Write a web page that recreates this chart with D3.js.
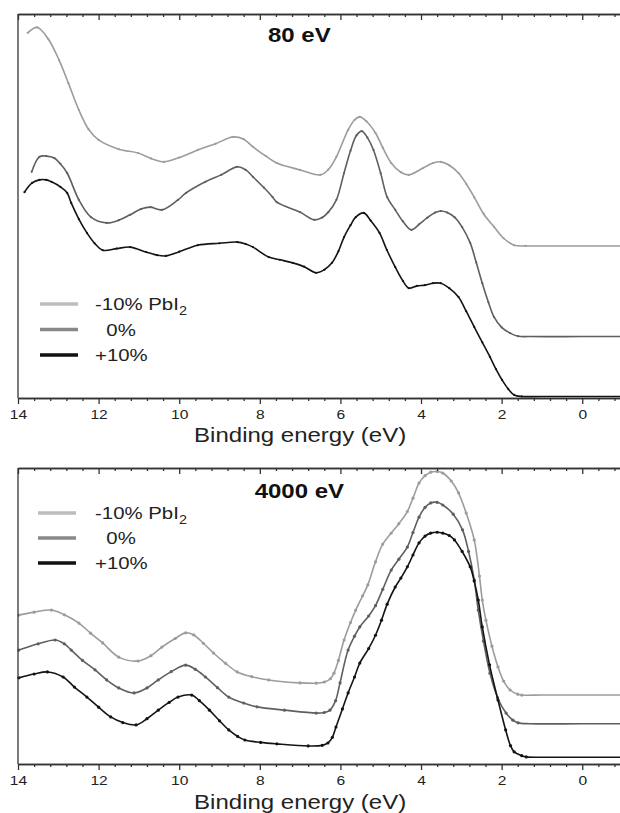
<!DOCTYPE html>
<html><head><meta charset="utf-8">
<script src="https://cdn.jsdelivr.net/npm/d3@7"></script>
<style>
body{margin:0;background:#fff}
svg{display:block}
text{font-family:"Liberation Sans",Arial,Helvetica,sans-serif;fill:#222}
</style>
</head><body>
<svg id="chart" width="620" height="813"></svg>
<script>
// ---------- data ----------
const seriesNames = ["-10% PbI", "  0%", "+10%"];
const seriesSub = ["2", "", ""];
const panelTitles = ["80 eV", "4000 eV"];
const xAxisTitle = "Binding energy (eV)";
const majorTicks = [14, 12, 10, 8, 6, 4, 2, 0];
const minorTicks = [13.6,13.2,12.8,12.4,11.6,11.2,10.8,10.4,9.6,9.2,8.8,8.4,7.6,7.2,6.8,6.4,5.6,5.2,4.8,4.4,3.6,3.2,2.8,2.4,1.6,1.2,0.8,0.4,-0.4,-0.8];

// 80 eV panel: [binding energy (eV), intensity (arb.)]
const top_minus10 = [[13.76,95.1],[13.52,96.5],[13.25,93.5],[12.98,88.0],[12.75,82.0],[12.49,75.0],[12.25,70.0],[12.0,67.2],[11.5,64.8],[11.02,63.8],[10.7,62.4],[10.38,61.5],[10.0,62.6],[9.54,64.6],[9.1,66.2],[8.66,68.0],[8.4,67.4],[8.17,65.4],[7.85,63.0],[7.58,61.2],[7.0,59.4],[6.5,58.1],[6.3,59.5],[6.1,62.8],[5.81,69.8],[5.65,72.4],[5.52,73.2],[5.35,72.0],[5.13,69.0],[4.95,65.2],[4.74,61.2],[4.5,58.8],[4.3,58.1],[3.95,59.9],[3.7,61.2],[3.51,61.5],[3.3,60.6],[3.07,58.6],[2.88,55.8],[2.68,52.3],[2.45,48.0],[2.19,44.6],[1.95,41.6],[1.69,39.8],[1.4,39.6],[1.0,39.6],[0.0,39.6],[-1.2,39.6]];
const top_zero = [[13.66,58.9],[13.47,62.8],[13.3,63.0],[13.1,62.5],[12.95,61.0],[12.78,58.6],[12.49,51.6],[12.19,47.1],[11.8,45.6],[11.5,46.3],[11.22,47.7],[10.95,49.2],[10.72,49.7],[10.43,49.0],[10.03,51.6],[9.83,53.4],[9.35,56.3],[8.96,58.1],[8.56,60.2],[8.35,59.4],[8.17,57.6],[7.9,54.8],[7.68,52.3],[7.58,51.0],[7.0,48.4],[6.65,46.4],[6.45,47.0],[6.3,48.4],[6.1,51.6],[5.91,58.6],[5.75,64.4],[5.6,68.4],[5.47,69.5],[5.33,67.8],[5.18,64.6],[5.0,58.5],[4.84,52.3],[4.64,49.0],[4.45,46.0],[4.24,43.8],[4.05,45.2],[3.85,46.9],[3.65,48.3],[3.51,48.7],[3.35,48.3],[3.17,47.1],[2.98,44.5],[2.78,40.4],[2.63,35.3],[2.48,29.9],[2.33,25.0],[2.19,21.1],[2.0,18.4],[1.79,16.9],[1.59,16.1],[1.3,16.0],[0.0,16.0],[-1.2,16.0]];
const top_plus10 = [[13.84,53.6],[13.65,56.0],[13.47,56.8],[13.3,56.8],[13.17,56.3],[12.95,55.0],[12.78,53.4],[12.68,50.8],[12.49,46.6],[12.29,43.0],[12.1,40.3],[11.9,38.5],[11.55,38.9],[11.22,39.3],[10.82,38.0],[10.55,37.2],[10.33,37.0],[10.0,38.1],[9.54,39.8],[9.0,40.3],[8.56,40.6],[8.35,40.1],[8.17,39.3],[7.78,36.7],[7.5,36.0],[7.19,35.2],[6.9,34.2],[6.6,32.6],[6.4,33.4],[6.21,35.2],[6.05,38.2],[5.91,41.9],[5.75,45.0],[5.62,47.1],[5.42,48.2],[5.25,46.2],[5.03,43.0],[4.85,38.6],[4.64,34.1],[4.45,30.5],[4.3,28.6],[4.1,29.2],[3.9,29.4],[3.7,29.9],[3.51,29.9],[3.3,28.6],[3.07,26.3],[2.88,22.6],[2.68,18.5],[2.48,14.5],[2.29,10.7],[2.14,7.5],[1.99,4.7],[1.84,2.4],[1.69,0.8],[1.5,0.4],[1.0,0.4],[0.0,0.4],[-1.2,0.4]];

// 4000 eV panel
const bot_minus10 = [[13.98,50.3],[13.6,51.3],[13.17,52.0],[12.85,50.4],[12.49,47.6],[12.2,44.2],[11.9,40.9],[11.5,36.1],[11.02,34.8],[10.7,36.6],[10.43,39.5],[10.1,42.4],[9.84,44.3],[9.64,43.6],[9.4,40.8],[9.15,37.5],[8.85,34.0],[8.56,31.1],[8.2,29.5],[7.78,28.4],[7.0,27.4],[6.6,27.3],[6.4,27.7],[6.25,28.8],[6.16,30.7],[6.05,35.0],[5.91,41.9],[5.75,47.8],[5.62,52.0],[5.45,56.8],[5.32,60.5],[5.13,68.3],[4.95,74.3],[4.74,78.0],[4.55,81.2],[4.34,85.3],[4.2,89.8],[4.05,94.9],[3.9,97.4],[3.76,98.6],[3.6,98.8],[3.46,98.3],[3.25,95.6],[3.07,91.6],[2.88,84.8],[2.68,75.7],[2.55,63.5],[2.48,55.4],[2.39,48.6],[2.24,39.8],[2.09,32.8],[1.95,28.0],[1.79,25.0],[1.6,23.6],[1.5,23.3],[1.0,23.3],[0.0,23.3],[-1.2,23.3]];
const bot_zero = [[13.98,38.5],[13.5,40.6],[13.08,41.9],[12.85,40.6],[12.68,38.5],[12.4,35.0],[12.09,31.8],[11.8,28.4],[11.5,25.7],[11.12,24.0],[10.8,25.7],[10.52,28.4],[10.2,31.2],[9.84,33.4],[9.6,32.0],[9.35,29.4],[9.05,25.8],[8.77,22.6],[8.4,20.6],[8.07,19.3],[7.39,18.2],[6.6,17.2],[6.4,17.4],[6.26,18.2],[6.12,21.4],[6.01,27.4],[5.81,38.5],[5.65,43.2],[5.52,46.3],[5.3,50.0],[5.13,53.5],[4.95,59.0],[4.74,65.5],[4.55,69.2],[4.34,73.3],[4.2,78.2],[4.05,83.4],[3.9,86.7],[3.76,88.2],[3.6,88.4],[3.46,87.5],[3.2,84.4],[2.97,79.1],[2.82,71.8],[2.68,62.2],[2.58,52.0],[2.45,41.5],[2.29,30.7],[2.1,22.4],[1.89,17.2],[1.72,14.8],[1.59,13.9],[1.3,13.6],[0.0,13.6],[-1.2,13.6]];
const bot_plus10 = [[13.98,29.1],[13.6,30.4],[13.27,31.1],[12.88,29.4],[12.6,26.0],[12.29,22.6],[12.0,19.2],[11.7,15.9],[11.4,14.0],[11.07,13.2],[10.8,15.3],[10.52,18.2],[10.25,20.8],[10.03,22.6],[9.69,23.3],[9.5,21.4],[9.25,18.2],[9.0,14.6],[8.77,11.5],[8.55,9.3],[8.37,8.1],[7.98,7.3],[7.58,6.8],[6.8,6.1],[6.45,6.3],[6.31,7.1],[6.2,9.0],[6.11,12.5],[5.95,18.6],[5.81,24.0],[5.65,29.4],[5.52,34.1],[5.3,39.0],[5.13,43.5],[4.98,48.6],[4.84,54.0],[4.64,59.8],[4.5,62.8],[4.34,66.6],[4.2,70.6],[4.05,74.7],[3.9,77.0],[3.76,78.0],[3.6,78.3],[3.46,78.0],[3.3,77.2],[3.17,75.7],[2.98,71.8],[2.78,66.6],[2.68,61.8],[2.58,55.4],[2.48,46.3],[2.3,33.5],[2.09,21.6],[1.9,11.5],[1.78,6.2],[1.69,4.1],[1.5,2.8],[1.39,2.4],[1.0,2.3],[0.0,2.3],[-1.2,2.3]];

// ---------- layout / style ----------
const W = 620, H = 813;
const xLeft = 18, xRight = 630.6;
const lineColors = ["#9c9c9c", "#5f5f5f", "#141414"];
const legendColors = ["#bdbdbd", "#888888", "#111111"];
const panels = [
  {top:14, bottom:398, title:panelTitles[0], titleY:42, axisTitleY:442, legendX:[40,78], legendY:[304,329.5,355], dotR:1.1, data:[top_minus10, top_zero, top_plus10]},
  {top:468, bottom:764, title:panelTitles[1], titleY:498, axisTitleY:809, legendX:[38,76], legendY:[513,538,563], dotR:1.6, data:[bot_minus10, bot_zero, bot_plus10]}
];
const stretch = "scale(1.2,1)";

const svg = d3.select("#chart");
const x = d3.scaleLinear().domain([14, -1.2]).range([xLeft, xRight]);

panels.forEach(p => {
  const y = d3.scaleLinear().domain([0, 100]).range([p.bottom, p.top]);
  const g = svg.append("g");

  // curves
  const line = d3.line().x(d => x(d[0])).y(d => y(d[1])).curve(d3.curveCatmullRom.alpha(0.5));
  p.data.forEach((series, i) => {
    g.append("path").datum(series)
      .attr("d", line).attr("fill", "none")
      .attr("stroke", lineColors[i]).attr("stroke-width", 1.6)
      .attr("stroke-linejoin", "round");
    g.selectAll(null).data(series.filter(d => d[0] > 1.3)).enter().append("circle")
      .attr("cx", d => x(d[0])).attr("cy", d => y(d[1])).attr("r", p.dotR)
      .attr("fill", lineColors[i]);
  });

  // axes
  const axisStyle = sel => {
    sel.selectAll("path,line").attr("stroke", "#333").attr("stroke-width", 1.3);
  };
  const bottomMajor = d3.axisBottom(x).tickValues(majorTicks).tickSize(6).tickSizeOuter(0).tickFormat(d3.format("d"));
  const bottomMinor = d3.axisBottom(x).tickValues(minorTicks).tickSize(3).tickSizeOuter(0).tickFormat("");
  const gb = g.append("g").attr("transform", `translate(0,${p.bottom})`).call(bottomMajor).call(axisStyle);
  g.append("g").attr("transform", `translate(0,${p.bottom})`).call(bottomMinor).call(axisStyle);
  gb.selectAll("text").attr("y", 21.5).attr("dy", null)
    .attr("transform", stretch)
    .style("font-size", "13px").style("fill", "#222")
    .style("font-family", '"Liberation Sans",Arial,sans-serif');

  const topMajor = d3.axisBottom(x).tickValues(majorTicks).tickSize(6).tickSizeOuter(0).tickFormat("");
  const topMinor = d3.axisBottom(x).tickValues(minorTicks).tickSize(3).tickSizeOuter(0).tickFormat("");
  g.append("g").attr("transform", `translate(0,${p.top})`).call(topMajor).call(axisStyle);
  g.append("g").attr("transform", `translate(0,${p.top})`).call(topMinor).call(axisStyle);

  // left frame
  g.append("line").attr("x1", x(14)).attr("x2", x(14)).attr("y1", y.range()[1]).attr("y2", y.range()[0])
    .attr("stroke", "#333").attr("stroke-width", 1.3);

  // panel title
  g.append("text").attr("transform", `translate(${x(7.02)},${p.titleY}) ${stretch}`)
    .attr("text-anchor", "middle").style("font-size", "20px").style("font-weight", "bold").style("fill", "#111")
    .text(p.title);

  // axis title
  g.append("text").attr("transform", `translate(${x(7.0)},${p.axisTitleY}) ${stretch}`)
    .attr("text-anchor", "middle").style("font-size", "20px").style("fill", "#222")
    .text(xAxisTitle);

  // legend
  seriesNames.forEach((name, i) => {
    const ly = p.legendY[i];
    g.append("line").attr("x1", p.legendX[0]).attr("x2", p.legendX[1]).attr("y1", ly).attr("y2", ly)
      .attr("stroke", legendColors[i]).attr("stroke-width", 3.5);
    const t = g.append("text").attr("transform", `translate(95,${ly + 6}) ${stretch}`)
      .attr("xml:space", "preserve").style("white-space", "pre")
      .style("font-size", "17px").style("fill", "#222");
    t.append("tspan").text(name);
    if (seriesSub[i]) t.append("tspan").attr("dy", 5).style("font-size", "12px").text(seriesSub[i]);
  });
});
</script>
</body></html>
